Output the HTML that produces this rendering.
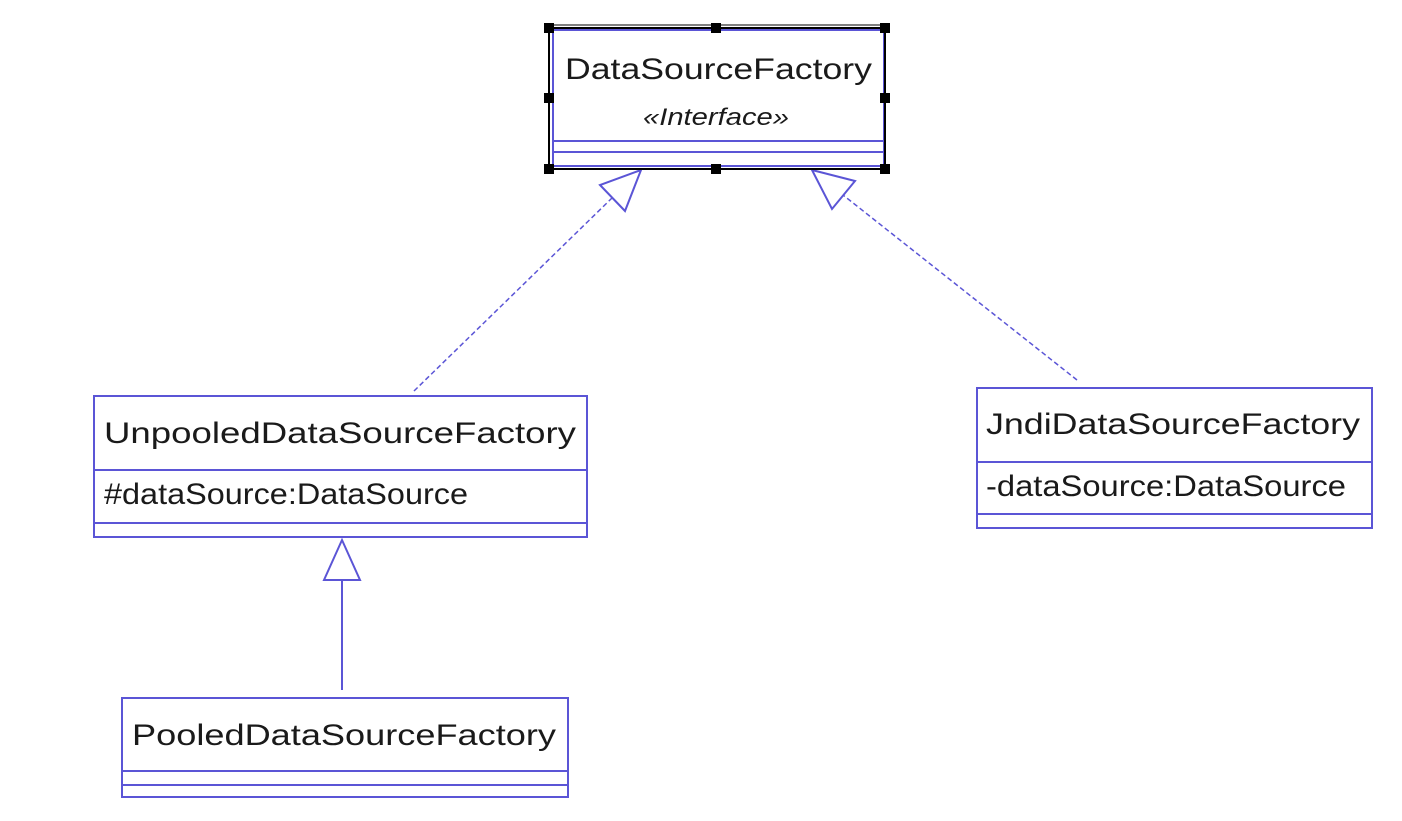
<!DOCTYPE html>
<html><head><meta charset="utf-8"><style>html,body{margin:0;padding:0;background:#fff}</style></head>
<body>
<svg width="1402" height="816" viewBox="0 0 1402 816" xmlns="http://www.w3.org/2000/svg" font-family="Liberation Sans, sans-serif">
<g fill="none" stroke="#5b55d6" stroke-width="2">
  <!-- interface -->
  <rect x="553" y="30" width="331" height="136"/>
  <line x1="553" y1="141" x2="884" y2="141"/>
  <line x1="553" y1="152" x2="884" y2="152"/>
  <!-- unpooled -->
  <rect x="94" y="396" width="493" height="141"/>
  <line x1="94" y1="470" x2="587" y2="470"/>
  <line x1="94" y1="523" x2="587" y2="523"/>
  <!-- jndi -->
  <rect x="977" y="388" width="395" height="140"/>
  <line x1="977" y1="462" x2="1372" y2="462"/>
  <line x1="977" y1="514" x2="1372" y2="514"/>
  <!-- pooled -->
  <rect x="122" y="698" width="446" height="99"/>
  <line x1="122" y1="771" x2="568" y2="771"/>
  <line x1="122" y1="785" x2="568" y2="785"/>
  <!-- connectors -->
  <line x1="414" y1="391" x2="612" y2="198" stroke-dasharray="5,3" stroke-width="1.5"/>
  <polygon points="641,170 625,211 600,185" fill="#fff"/>
  <line x1="1077" y1="380" x2="843" y2="195" stroke-dasharray="5,3" stroke-width="1.5"/>
  <polygon points="812,170 855,181 832,209" fill="#fff"/>
  <line x1="342" y1="690" x2="342" y2="580"/>
  <polygon points="342,540 360,580 324,580" fill="#fff"/>
</g>
<!-- selection frame -->
<g stroke="#000" stroke-width="2" fill="none">
  <line x1="549" y1="28" x2="885" y2="28"/><line x1="549" y1="25" x2="885" y2="25" stroke-width="1"/>
  <line x1="549" y1="169" x2="885" y2="169"/>
  <line x1="549" y1="28" x2="549" y2="169"/>
  <line x1="885" y1="28" x2="885" y2="169"/>
</g>
<g fill="#000">
  <rect x="544" y="23" width="10" height="10"/><rect x="711" y="23" width="10" height="10"/><rect x="880" y="23" width="10" height="10"/>
  <rect x="544" y="93" width="10" height="10"/><rect x="880" y="93" width="10" height="10"/>
  <rect x="544" y="164" width="10" height="10"/><rect x="711" y="164" width="10" height="10"/><rect x="880" y="164" width="10" height="10"/>
</g>
<g fill="#1a1a1a" font-size="30">
  <text x="565" y="79" textLength="307" lengthAdjust="spacingAndGlyphs">DataSourceFactory</text>
  <text x="643" y="125" font-size="24" font-style="italic" textLength="146" lengthAdjust="spacingAndGlyphs">«Interface»</text>
  <text x="104" y="443" textLength="472" lengthAdjust="spacingAndGlyphs">UnpooledDataSourceFactory</text>
  <text x="104" y="504" textLength="364" lengthAdjust="spacingAndGlyphs">#dataSource:DataSource</text>
  <text x="986" y="434" textLength="374" lengthAdjust="spacingAndGlyphs">JndiDataSourceFactory</text>
  <text x="986" y="496" textLength="360" lengthAdjust="spacingAndGlyphs">-dataSource:DataSource</text>
  <text x="132" y="745" textLength="424" lengthAdjust="spacingAndGlyphs">PooledDataSourceFactory</text>
</g>
</svg>
</body></html>
